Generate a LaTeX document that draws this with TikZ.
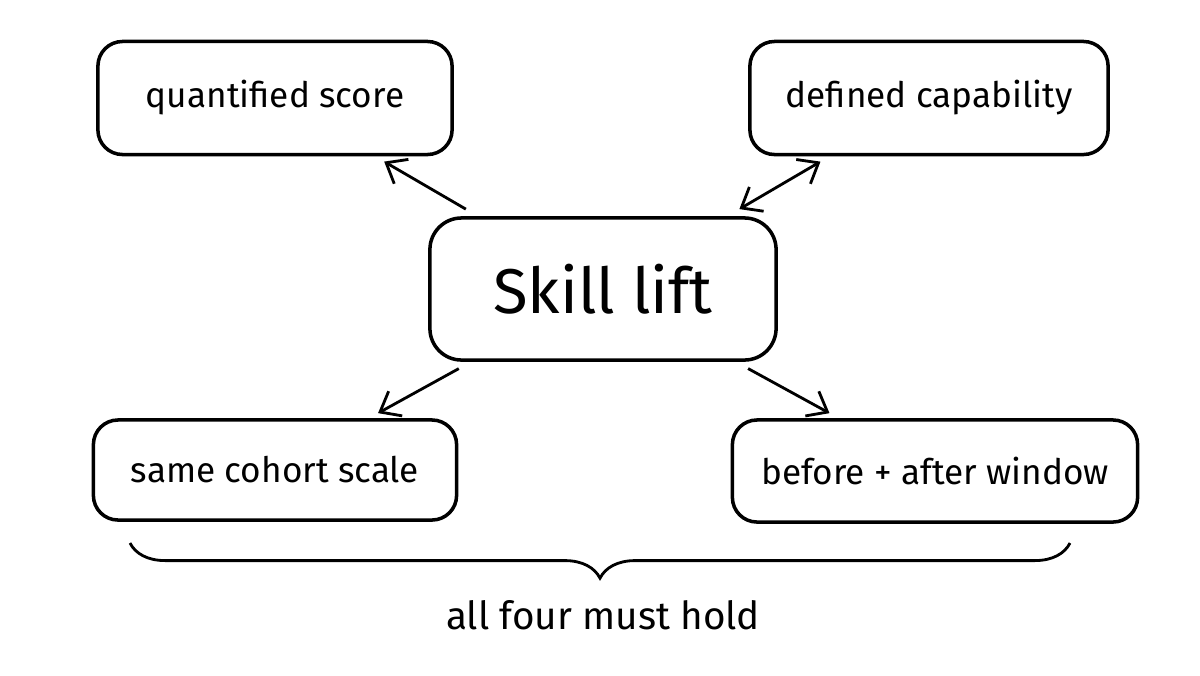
\documentclass[tikz,border=0pt]{standalone}
\usepackage{fontspec}
\setmainfont{Fira Sans}
\usetikzlibrary{positioning, arrows.meta, decorations.pathreplacing}
\tikzset{
	box/.style={draw, line width=1pt, rounded corners=7pt, inner sep=0pt, font=\fontsize{10}{12}\selectfont},
	link/.style={line width=0.8pt, -{Straight Barb[length=5pt, width=8pt]}, shorten <=4pt, shorten >=3pt},
}

\begin{document}
\begin{tikzpicture}[x=0.01cm, y=-0.01cm]
\useasboundingbox (0, 0) rectangle (1200, 675);
\node[box, minimum width=3.54cm, minimum height=1.13cm] (qs) at (275, 98) {quantified score};
\node[box, minimum width=3.58cm, minimum height=1.13cm] (dc) at (929, 98) {defined capability};
\node[box, minimum width=3.46cm, minimum height=1.42cm, rounded corners=9pt, font=\fontsize{18}{20}\selectfont] (skill) at (603, 289) {Skill lift};
\node[box, minimum width=3.63cm, minimum height=1.00cm] (cs) at (275, 470) {same cohort scale};
\node[box, minimum width=4.05cm, minimum height=1.02cm] (ba) at (935, 471) {before + after window};
\draw[link] (skill) -- (qs);
\draw[link, {Straight Barb[length=5pt, width=8pt]}-{Straight Barb[length=5pt, width=8pt]}] (skill) -- (dc);
\draw[link] (skill) -- (cs);
\draw[link] (skill) -- (ba);
% brace under the lower row
\coordinate (bl) at (130, 543);
\coordinate (br) at (1070, 543);
\draw[line width=0.8pt, decorate, decoration={brace, mirror, amplitude=10pt}] (bl) -- (br);
\node[font=\fontsize{11}{13}\selectfont] (hold) at (603, 615) {all four must hold};
\end{tikzpicture}
\end{document}
